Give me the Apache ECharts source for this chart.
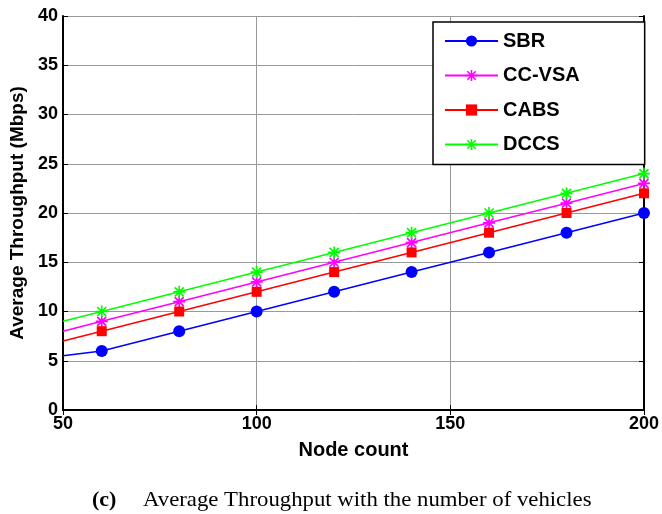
<!DOCTYPE html>
<html>
<head>
<meta charset="utf-8">
<script src="https://cdn.jsdelivr.net/npm/echarts@6/dist/echarts.min.js"></script>
<style>
html,body{margin:0;padding:0;background:#fff;}
#chart{width:662px;height:514px;}
</style>
</head>
<body>
<div id="chart"></div>
<script>
// Data
const nodeCounts = [50, 60, 80, 100, 120, 140, 160, 180, 200];
const sbr   = [5.5, 6, 8, 10, 12, 14, 16, 18, 20];
const ccvsa = [8, 9, 11, 13, 15, 17, 19, 21, 23];
const cabs  = [7, 8, 10, 12, 14, 16, 18, 20, 22];
const dccs  = [9, 10, 12, 14, 16, 18, 20, 22, 24];
const seriesNames = ['SBR', 'CC-VSA', 'CABS', 'DCCS'];
const xTicks = [50, 100, 150, 200];
const yTicks = [0, 5, 10, 15, 20, 25, 30, 35, 40];
const captionLabel = '(c)';
const captionText = 'Average Throughput with the number of vehicles';

const asterisk = 'path://M8.6 0L11.4 0L11.4 20L8.6 20Z M0 8.6L20 8.6L20 11.4L0 11.4Z M1.5 3.5L3.5 1.5L18.5 16.5L16.5 18.5Z M16.5 1.5L18.5 3.5L3.5 18.5L1.5 16.5Z';

function build(vals) {
  return nodeCounts.map((x, i) => i === 0 ? { value: [x, vals[i]], symbol: 'none' } : { value: [x, vals[i]] });
}

const chart = echarts.init(document.getElementById('chart'), null, { renderer: 'canvas' });
const tickFont = { fontFamily: 'Liberation Sans', fontWeight: 'bold', fontSize: 18, color: '#000' };

const xBase = {
  type: 'value', min: xTicks[0], max: xTicks[xTicks.length - 1], interval: 50,
  axisLine: { lineStyle: { color: '#000', width: 2 } },
  axisTick: { inside: true, length: 5, lineStyle: { color: '#000', width: 1 } }
};
const yBase = {
  type: 'value', min: yTicks[0], max: yTicks[yTicks.length - 1], interval: 5,
  axisLine: { show: true, lineStyle: { color: '#000', width: 2 } },
  axisTick: { show: true, inside: true, length: 5, lineStyle: { color: '#000', width: 1 } }
};

const colors = ['#0000FF', '#FF00FF', '#FF0000', '#00FF00'];
const symbols = ['circle', asterisk, 'rect', asterisk];
const sizes = [12, 12, 10, 12];
const vals = [sbr, ccvsa, cabs, dccs];

chart.setOption({
  animation: false,
  grid: { left: 63, right: 15, top: 16, bottom: 104 },
  xAxis: [
    Object.assign({}, xBase, {
      position: 'bottom',
      name: 'Node count', nameLocation: 'middle', nameGap: 30,
      nameTextStyle: { fontFamily: 'Liberation Sans', fontWeight: 'bold', fontSize: 20, color: '#000' },
      axisLabel: Object.assign({ margin: 5 }, tickFont),
      splitLine: { show: true, lineStyle: { color: '#999', width: 1 } }
    }),
    Object.assign({}, xBase, {
      position: 'top', axisLabel: { show: false }, splitLine: { show: false }
    })
  ],
  yAxis: [
    Object.assign({}, yBase, {
      position: 'left',
      name: 'Average Throughput (Mbps)', nameLocation: 'middle', nameGap: 33, nameRotate: 90,
      nameTextStyle: { fontFamily: 'Liberation Sans', fontWeight: 'bold', fontSize: 19, color: '#000' },
      axisLabel: Object.assign({ margin: 5 }, tickFont),
      splitLine: { show: true, lineStyle: { color: '#999', width: 1 } }
    }),
    Object.assign({}, yBase, {
      position: 'right', axisLabel: { show: false }, splitLine: { show: false }
    })
  ],
  legend: {
    orient: 'vertical',
    left: 433, top: 22,
    padding: [9, 65, 10, 11],
    itemWidth: 53, itemHeight: 14, itemGap: 14.5,
    backgroundColor: '#fff',
    borderColor: '#000', borderWidth: 1.5,
    textStyle: { fontFamily: 'Liberation Sans', fontWeight: 'bold', fontSize: 20, color: '#000', lineHeight: 20 },
    data: seriesNames
  },
  series: seriesNames.map((name, i) => ({
    name: name,
    type: 'line',
    data: build(vals[i]),
    symbol: symbols[i],
    symbolSize: sizes[i],
    symbolKeepAspect: true,
    showAllSymbol: true,
    color: colors[i],
    lineStyle: { color: colors[i], width: 1.5 },
    itemStyle: { color: colors[i] }
  })),
  graphic: [
    { type: 'text', left: 92, top: 489, style: { text: captionLabel, font: 'bold 22px "Liberation Serif"', fill: '#000' } },
    { type: 'text', x: 143, y: 489, scaleX: 1.035, style: { text: captionText, font: '22px "Liberation Serif"', fill: '#000' } }
  ]
});
</script>
</body>
</html>
